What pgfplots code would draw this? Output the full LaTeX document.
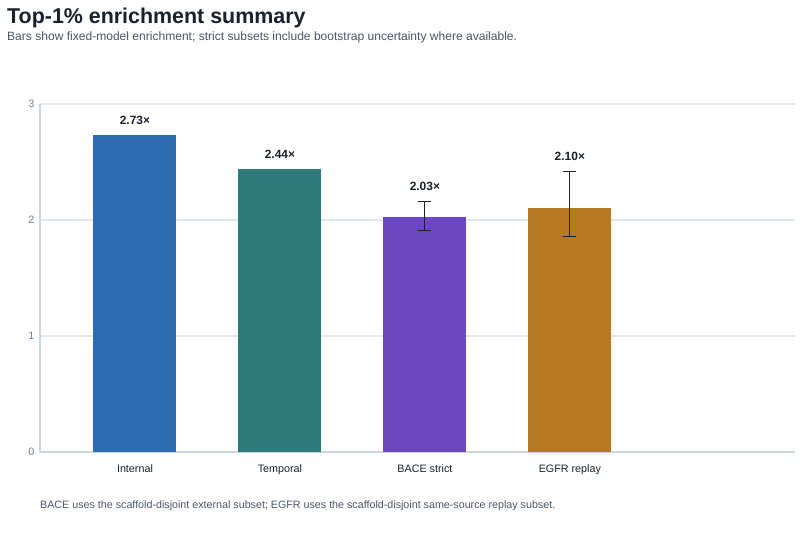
\documentclass[border=0pt]{standalone}
\usepackage{fontspec}
\setmainfont{Liberation Sans}
\usepackage{pgfplots}
\pgfplotsset{compat=1.18}

\definecolor{titlec}{HTML}{1A202C}
\definecolor{subc}{HTML}{4A5568}
\definecolor{tickc}{HTML}{718096}
\definecolor{gridc}{HTML}{E2E8F0}
\definecolor{axisc}{HTML}{CBD5E0}
\definecolor{cInternal}{HTML}{2B6CB0}
\definecolor{cTemporal}{HTML}{2C7A7B}
\definecolor{cBACE}{HTML}{6B46C1}
\definecolor{cEGFR}{HTML}{B7791F}

\begin{document}
\begin{tikzpicture}[x=1bp,y=1bp]
\path[use as bounding box, fill=white] (0,0) rectangle (800,552);

\node[anchor=base west, inner sep=0, text=titlec, font=\fontsize{21.5}{24}\selectfont\bfseries]
  at (7,528) {Top-1\% enrichment summary};
\node[anchor=base west, inner sep=0, text=subc, font=\fontsize{12.1}{14}\selectfont]
  at (7,511) {Bars show fixed-model enrichment; strict subsets include bootstrap uncertainty where available.};

\begin{axis}[
  at={(40bp,100bp)}, anchor=south west,
  scale only axis, width=755bp, height=348bp,
  xmin=-0.655, xmax=4.553, ymin=0, ymax=3,
  ybar, bar width=83bp, bar shift=0pt,
  xtick={0,1,2,3},
  xticklabels={Internal,Temporal,BACE strict,EGFR replay},
  ytick={0,1,2,3},
  axis x line*=bottom, axis y line*=left,
  axis line style={axisc, line width=1.4bp},
  x axis line style={-}, y axis line style={-},
  major tick length=0pt,
  ymajorgrids, grid style={gridc, line width=1.3bp},
  tick label style={font=\fontsize{10.8}{12}\selectfont},
  yticklabel style={text=tickc, xshift=-2bp},
  xticklabel style={text=titlec, yshift=-9bp},
  /pgf/number format/assume math mode=true,
  clip=false,
  error bars/error bar style={titlec, line width=1.1bp},
  error bars/error mark options={titlec, line width=1.1bp, rotate=90, mark size=6.5bp},
]
\addplot[fill=cInternal, draw=none] coordinates {(0,2.73)};
\addplot[fill=cTemporal, draw=none] coordinates {(1,2.44)};
\addplot[fill=cBACE, draw=none,
  error bars/.cd, y dir=both, y explicit]
  coordinates {(2,2.03) += (0,0.13) -= (0,0.12)};
\addplot[fill=cEGFR, draw=none,
  error bars/.cd, y dir=both, y explicit]
  coordinates {(3,2.10) += (0,0.32) -= (0,0.24)};
% value labels sit just above the bar or its upper whisker
\addplot[draw=none, fill=none, forget plot,
  nodes near coords, point meta=explicit symbolic,
  nodes near coords style={anchor=center, yshift=15bp, text=titlec,
    font=\fontsize{12}{14}\selectfont\bfseries}]
  table[meta=lab] {
x y lab
0 2.73 2.73×
1 2.44 2.44×
2 2.16 2.03×
3 2.42 2.10×
};
\end{axis}

\node[anchor=base west, inner sep=0, text=subc, font=\fontsize{10.75}{12}\selectfont]
  at (40,43) {BACE uses the scaffold-disjoint external subset; EGFR uses the scaffold-disjoint same-source replay subset.};
\end{tikzpicture}
\end{document}
